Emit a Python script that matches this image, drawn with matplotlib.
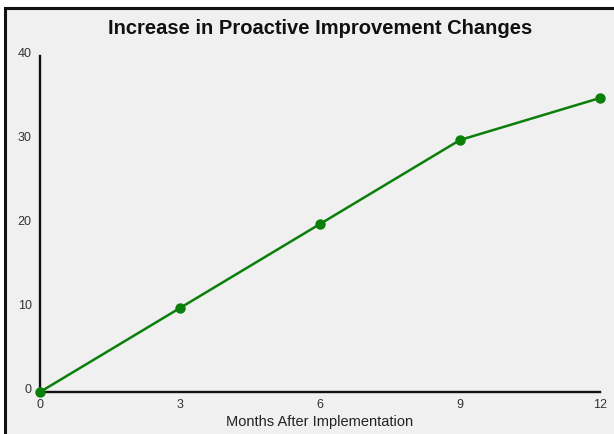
import matplotlib.pyplot as plt
from matplotlib.patches import Rectangle

months = [0, 3, 6, 9, 12]
changes = [0, 10, 20, 30, 35]
x_ticks = [0, 3, 6, 9, 12]
y_ticks = [0, 10, 20, 30, 40]

plt.rcParams['font.family'] = ['Liberation Sans', 'DejaVu Sans']

fig = plt.figure(figsize=(6.14, 4.35), dpi=100)
fig.patch.set_facecolor('white')

# grey panel with a black frame on top/left (cropped on the other sides)
W, H = 614, 435
panel = Rectangle((5 / W, -0.02), 1.0, 1.02 - 9 / H, transform=fig.transFigure,
                  facecolor='#f0f0f0', edgecolor='#111111', linewidth=2.2, zorder=-5)
fig.patches.append(panel)

ax = fig.add_axes([40 / W, 1 - 393 / H, 560 / W, 336 / H])
ax.set_facecolor('none')
ax.set_zorder(2)

ax.plot(months, changes, color='#0a7f0a', linewidth=1.8, marker='o',
        markersize=6.5, clip_on=False, zorder=3)

ax.set_xlim(0, 12)
ax.set_ylim(0, 40)
ax.set_xticks(x_ticks)
ax.set_yticks(y_ticks)

for s in ['top', 'right']:
    ax.spines[s].set_visible(False)
for s in ['left', 'bottom']:
    ax.spines[s].set_linewidth(1.7)
    ax.spines[s].set_color('#111111')

ax.tick_params(axis='both', length=0, labelsize=9, colors='#333333')
ax.tick_params(axis='x', pad=4)
ax.tick_params(axis='y', pad=6)
for lab in ax.get_yticklabels():
    lab.set_verticalalignment('baseline')

ax.set_xlabel('Months After Implementation', fontsize=10.5, color='#222222', labelpad=3)
fig.text(320 / W, 1 - 28 / H, 'Increase in Proactive Improvement Changes',
         ha='center', va='center', fontsize=14.5, fontweight='bold', color='#111111',
         zorder=3)

fig.savefig('out.png', dpi=100)
